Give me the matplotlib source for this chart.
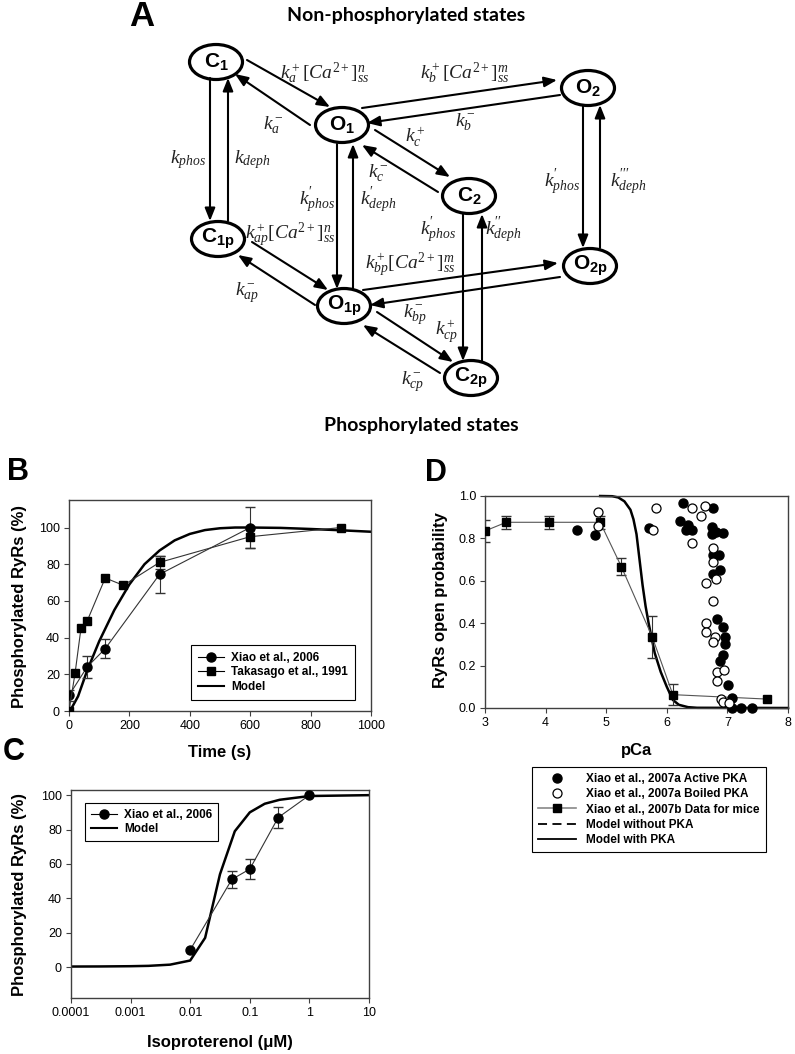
import numpy as np
import matplotlib
matplotlib.use('Agg')
import matplotlib.pyplot as plt
from matplotlib.patches import Ellipse, FancyArrowPatch
from matplotlib.lines import Line2D

plt.rcParams['font.family'] = ['Liberation Sans', 'DejaVu Sans']
plt.rcParams['mathtext.fontset'] = 'custom'
plt.rcParams['mathtext.rm'] = 'Liberation Serif'
plt.rcParams['mathtext.it'] = 'Liberation Serif:italic'
plt.rcParams['mathtext.bf'] = 'Liberation Sans:bold'

# ---- panel B data: phosphorylation time course
xiao06_t = [0, 60, 120, 300, 600]
xiao06_v = [8.5, 24, 34, 74.5, 100]
xiao06_err = [3, 6, 5, 10, 11]
taka_t = [0, 20, 40, 60, 120, 180, 300, 600, 900]
taka_v = [0, 20.5, 45.5, 49, 72.5, 68.5, 81, 95, 100]
taka_err = [0, 0, 0, 0, 0, 0, 3.5, 6, 0]
modelB_t = [0, 10, 30, 60, 100, 150, 200, 250, 300, 350, 400, 450, 500, 550, 600, 700, 800, 900, 1000]
modelB_v = [0, 2, 8, 22, 38, 55, 69, 80, 87.5, 93, 96.5, 98.6, 99.6, 100, 100, 99.8, 99.2, 98.5, 97.7]

# ---- panel C data: isoproterenol dose response
iso_x = [0.01, 0.05, 0.1, 0.3, 1]
iso_v = [10, 51, 57, 87, 100]
iso_err = [0, 5, 6, 6, 0]
modelC_x = [1e-4, 3e-4, 1e-3, 2e-3, 4.6e-3, 0.01, 0.0178, 0.0316, 0.056, 0.1, 0.178, 0.316, 1, 10]
modelC_v = [0.3, 0.35, 0.5, 0.7, 1.4, 3.8, 17, 54, 79, 90, 95, 97.3, 99.5, 100]
isoticks = [0.0001, 0.001, 0.01, 0.1, 1, 10]
isoticklabels = ['0.0001', '0.001', '0.01', '0.1', '1', '10']

# ---- panel D data: open probability vs pCa
active_pca = [4.51, 4.82, 5.71, 6.27, 6.21, 6.31, 6.35, 6.41, 6.77, 6.74, 6.81, 6.92, 6.74,
              6.77, 6.86, 6.77, 6.88, 6.83, 6.92, 6.96, 6.96, 6.93, 6.87, 7.01, 7.07, 7.07, 7.23, 7.41]
active_po = [0.838, 0.815, 0.85, 0.965, 0.88, 0.84, 0.863, 0.84, 0.943, 0.855, 0.83, 0.827, 0.82,
             0.72, 0.72, 0.63, 0.65, 0.42, 0.38, 0.336, 0.30, 0.25, 0.22, 0.108, 0.046, 0.0, 0.0, 0.0]
boiled_pca = [4.87, 4.87, 5.83, 5.78, 6.41, 6.63, 6.56, 6.41, 6.77, 6.77, 6.65, 6.81, 6.76, 6.64,
              6.64, 6.79, 6.76, 6.83, 6.94, 6.83, 6.90, 6.92, 7.03]
boiled_po = [0.925, 0.857, 0.942, 0.84, 0.942, 0.955, 0.905, 0.777, 0.753, 0.69, 0.588, 0.607, 0.506,
             0.40, 0.36, 0.336, 0.313, 0.171, 0.179, 0.129, 0.041, 0.03, 0.024]
mice_pca = [3.0, 3.35, 4.05, 4.9, 5.25, 5.76, 6.1, 7.66]
mice_po = [0.835, 0.876, 0.876, 0.876, 0.667, 0.335, 0.063, 0.042]
mice_err = [0.05, 0.03, 0.03, 0.03, 0.04, 0.1, 0.05, 0]
modelD_pca = [4.9, 5.1, 5.2, 5.3, 5.4, 5.45, 5.5, 5.55, 5.6, 5.65, 5.7, 5.75, 5.8, 5.9, 6.0, 6.1, 6.2, 6.35, 6.5, 8.0]
modelD_po = [1.0, 0.999, 0.993, 0.975, 0.935, 0.89, 0.82, 0.70, 0.58, 0.48, 0.40, 0.33, 0.26, 0.17, 0.10, 0.038, 0.015, 0.004, 0.001, 0.0]

fig = plt.figure(figsize=(7.95, 10.54), dpi=100)

# ---- panel A: state diagram drawn in pixel coordinates
ax0 = fig.add_axes([0, 0, 1, 1])
ax0.set_xlim(0, 795)
ax0.set_ylim(1054, 0)
ax0.axis('off')

nodes = {'C_1': (216, 62), 'O_1': (342, 125), 'O_2': (588, 88), 'C_2': (469, 196),
         'C_{1p}': (218, 239), 'O_{1p}': (344, 306), 'O_{2p}': (590, 266), 'C_{2p}': (471, 378)}
for name, (x, y) in nodes.items():
    ax0.add_patch(Ellipse((x, y), 53, 35, fill=False, lw=2.3, ec='black'))
    ax0.text(x, y, r'$\mathbf{%s}$' % name, ha='center', va='center', fontsize=15)

arrows = [((247, 60), (330, 107)), ((310, 125), (235, 74)),
          ((362, 108), (557, 80)), ((560, 95), (367, 123)),
          ((375, 130), (450, 177)), ((438, 192), (362, 145)),
          ((210, 78), (210, 221)), ((228, 221), (228, 78)),
          ((337, 144), (337, 289)), ((353, 289), (353, 144)),
          ((463, 214), (463, 361)), ((482, 361), (482, 214)),
          ((583, 105), (583, 248)), ((600, 248), (600, 105)),
          ((252, 242), (328, 290)), ((315, 305), (238, 255)),
          ((363, 290), (558, 263)), ((560, 277), (370, 305)),
          ((377, 312), (453, 362)), ((440, 373), (363, 325))]
for a, b in arrows:
    ax0.add_patch(FancyArrowPatch(a, b, arrowstyle='-|>,head_length=0.55,head_width=0.22',
                                  mutation_scale=14, lw=1.5, color='black', shrinkA=0, shrinkB=0))

rates = [((325, 73), r'$k_a^+[Ca^{2+}]_{ss}^n$'), ((465, 73), r'$k_b^+[Ca^{2+}]_{ss}^m$'),
         ((273, 125), r'$k_a^-$'), ((465, 122), r'$k_b^-$'),
         ((415, 137), r'$k_c^+$'), ((378, 173), r'$k_c^-$'),
         ((188, 160), r'$k_{phos}$'), ((252, 160), r'$k_{deph}$'),
         ((317, 200), r"$k_{phos}^{\prime}$"), ((378, 200), r"$k_{deph}^{\prime}$"),
         ((438, 230), r"$k_{phos}^{\prime}$"), ((503, 230), r"$k_{deph}^{\prime\prime}$"),
         ((562, 182), r"$k_{phos}^{\prime}$"), ((628, 182), r"$k_{deph}^{\prime\prime\prime}$"),
         ((290, 235), r'$k_{ap}^+[Ca^{2+}]_{ss}^n$'), ((247, 293), r'$k_{ap}^-$'),
         ((410, 265), r'$k_{bp}^+[Ca^{2+}]_{ss}^m$'), ((415, 315), r'$k_{bp}^-$'),
         ((447, 332), r'$k_{cp}^+$'), ((413, 382), r'$k_{cp}^-$')]
for (x, y), s in rates:
    ax0.text(x, y, s, ha='center', va='center', fontsize=14, color='#222222')

ax0.text(406, 15, 'Non-phosphorylated states', ha='center', va='center',
         fontsize=14, fontweight='bold', family='Lato')
ax0.text(421, 426, 'Phosphorylated states', ha='center', va='center',
         fontsize=14, fontweight='bold', family='Lato')

for (x, y), s, fs in [((142, 16), 'A', 25), ((18, 472), 'B', 22), ((14, 752), 'C', 22), ((436, 473), 'D', 22)]:
    ax0.text(x, y, s, ha='center', va='center', fontsize=fs, fontweight='bold')


def style(ax):
    for sp in ax.spines.values():
        sp.set_color('#404040')
        sp.set_linewidth(1.0)
    ax.tick_params(direction='out', length=3.5, width=0.8, labelsize=9, pad=3, color='#404040')


def px(l, t, r, b):
    return [l / 795, 1 - b / 1054, (r - l) / 795, (b - t) / 1054]


# ---- panel B
axB = fig.add_axes(px(69, 500, 371, 711))
style(axB)
axB.plot(modelB_t, modelB_v, color='black', lw=1.8, zorder=2)
axB.plot(xiao06_t, xiao06_v, color='#333333', lw=0.8, marker='o', ms=6.5, mfc='black', mec='black', zorder=3)
axB.plot(taka_t, taka_v, color='#333333', lw=0.8, marker='s', ms=6, mfc='black', mec='black', zorder=3)
axB.errorbar(xiao06_t, xiao06_v, yerr=xiao06_err, fmt='none', ecolor='#333333', elinewidth=0.8, capsize=3.5)
tk = [i for i in range(len(taka_t)) if taka_err[i] > 0]
axB.errorbar([taka_t[i] for i in tk], [taka_v[i] for i in tk], yerr=[taka_err[i] for i in tk],
             fmt='none', ecolor='#333333', elinewidth=0.8, capsize=3.5)
axB.set_xlim(0, 1000)
axB.set_ylim(0, 115)
axB.set_xticks([0, 200, 400, 600, 800, 1000])
axB.set_yticks([0, 20, 40, 60, 80, 100])
hB = [Line2D([], [], color='black', lw=0.8, marker='o', ms=6.5),
      Line2D([], [], color='black', lw=0.8, marker='s', ms=6),
      Line2D([], [], color='black', lw=1.5)]
legB = axB.legend(hB, ['Xiao et al., 2006', 'Takasago et al., 1991', 'Model'], loc='upper left',
                  bbox_to_anchor=(191 / 795, 1 - 645 / 1054), bbox_transform=fig.transFigure,
                  borderaxespad=0, fancybox=False, framealpha=1, edgecolor='black',
                  prop={'weight': 'bold', 'size': 8.5}, handlelength=2.2, labelspacing=0.2,
                  borderpad=0.6, handletextpad=0.6)
legB.get_frame().set_linewidth(0.8)
fig.text(220 / 795, 1 - 752 / 1054, 'Time (s)', ha='center', va='center', fontsize=12, fontweight='bold')
fig.text(20 / 795, 1 - 606 / 1054, 'Phosphorylated RyRs (%)', ha='center', va='center',
         rotation=90, fontsize=12, fontweight='bold')

# ---- panel C
axC = fig.add_axes(px(71, 790, 369, 998))
style(axC)
axC.set_xscale('log')
axC.plot(modelC_x, modelC_v, color='black', lw=1.8, zorder=2)
axC.plot(iso_x, iso_v, color='#333333', lw=0.8, marker='o', ms=6.5, mfc='black', mec='black', zorder=3)
ik = [i for i in range(len(iso_x)) if iso_err[i] > 0]
axC.errorbar([iso_x[i] for i in ik], [iso_v[i] for i in ik], yerr=[iso_err[i] for i in ik],
             fmt='none', ecolor='#333333', elinewidth=0.8, capsize=3.5)
axC.set_xlim(1e-4, 10)
axC.set_ylim(-18, 103)
axC.set_xticks(isoticks)
axC.set_xticklabels(isoticklabels)
axC.xaxis.set_minor_locator(matplotlib.ticker.NullLocator())
axC.set_yticks([0, 20, 40, 60, 80, 100])
hC = [Line2D([], [], color='black', lw=0.8, marker='o', ms=6.5),
      Line2D([], [], color='black', lw=1.5)]
legC = axC.legend(hC, ['Xiao et al., 2006', 'Model'], loc='upper left',
                  bbox_to_anchor=(85 / 795, 1 - 803 / 1054), bbox_transform=fig.transFigure,
                  borderaxespad=0, fancybox=False, framealpha=1, edgecolor='black',
                  prop={'weight': 'bold', 'size': 8.5}, handlelength=2.2, labelspacing=0.2,
                  borderpad=0.5, handletextpad=0.6)
legC.get_frame().set_linewidth(0.8)
fig.text(220 / 795, 1 - 1042 / 1054, 'Isoproterenol (μM)', ha='center', va='center', fontsize=12, fontweight='bold')
fig.text(20 / 795, 1 - 894 / 1054, 'Phosphorylated RyRs (%)', ha='center', va='center',
         rotation=90, fontsize=12, fontweight='bold')

# ---- panel D
axD = fig.add_axes(px(485, 496, 788, 708))
style(axD)
axD.plot(modelD_pca, modelD_po, color='black', lw=1.8, zorder=2, clip_on=False)
axD.plot(mice_pca, mice_po, color='#555555', lw=0.8, marker='s', ms=6, mfc='black', mec='black', zorder=3)
mk = [i for i in range(len(mice_pca)) if mice_err[i] > 0]
axD.errorbar([mice_pca[i] for i in mk], [mice_po[i] for i in mk], yerr=[mice_err[i] for i in mk],
             fmt='none', ecolor='#333333', elinewidth=0.8, capsize=3.5)
axD.plot(active_pca, active_po, ls='none', marker='o', ms=6.5, mfc='black', mec='black', zorder=4, clip_on=False)
axD.plot(boiled_pca, boiled_po, ls='none', marker='o', ms=6.5, mfc='white', mec='black', mew=0.9, zorder=5, clip_on=False)
axD.set_xlim(3, 8)
axD.set_ylim(0, 1)
axD.set_xticks([3, 4, 5, 6, 7, 8])
axD.set_yticks([0, 0.2, 0.4, 0.6, 0.8, 1.0])
axD.set_yticklabels(['0.0', '0.2', '0.4', '0.6', '0.8', '1.0'])
hD = [Line2D([], [], ls='none', marker='o', ms=6.5, mfc='black', mec='black'),
      Line2D([], [], ls='none', marker='o', ms=6.5, mfc='white', mec='black', mew=0.9),
      Line2D([], [], color='#888888', lw=1.2, marker='s', ms=6, mfc='black', mec='black'),
      Line2D([], [], color='black', lw=1.3, ls=(0, (5, 3))),
      Line2D([], [], color='black', lw=1.3)]
legD = fig.legend(hD, ['Xiao et al., 2007a Active PKA', 'Xiao et al., 2007a Boiled PKA',
                       'Xiao et al., 2007b Data for mice', 'Model without PKA', 'Model with PKA'],
                  loc='upper left', bbox_to_anchor=(532 / 795, 1 - 767 / 1054),
                  bbox_transform=fig.transFigure, borderaxespad=0, fancybox=False, framealpha=1,
                  edgecolor='black', prop={'weight': 'bold', 'size': 8.5}, handlelength=3.2,
                  labelspacing=0.28, borderpad=0.5, handletextpad=0.9)
legD.get_frame().set_linewidth(0.8)
fig.text(637 / 795, 1 - 750 / 1054, 'pCa', ha='center', va='center', fontsize=12, fontweight='bold')
fig.text(441 / 795, 1 - 600 / 1054, 'RyRs open probability', ha='center', va='center',
         rotation=90, fontsize=12, fontweight='bold')

fig.savefig('out.png', dpi=100)
